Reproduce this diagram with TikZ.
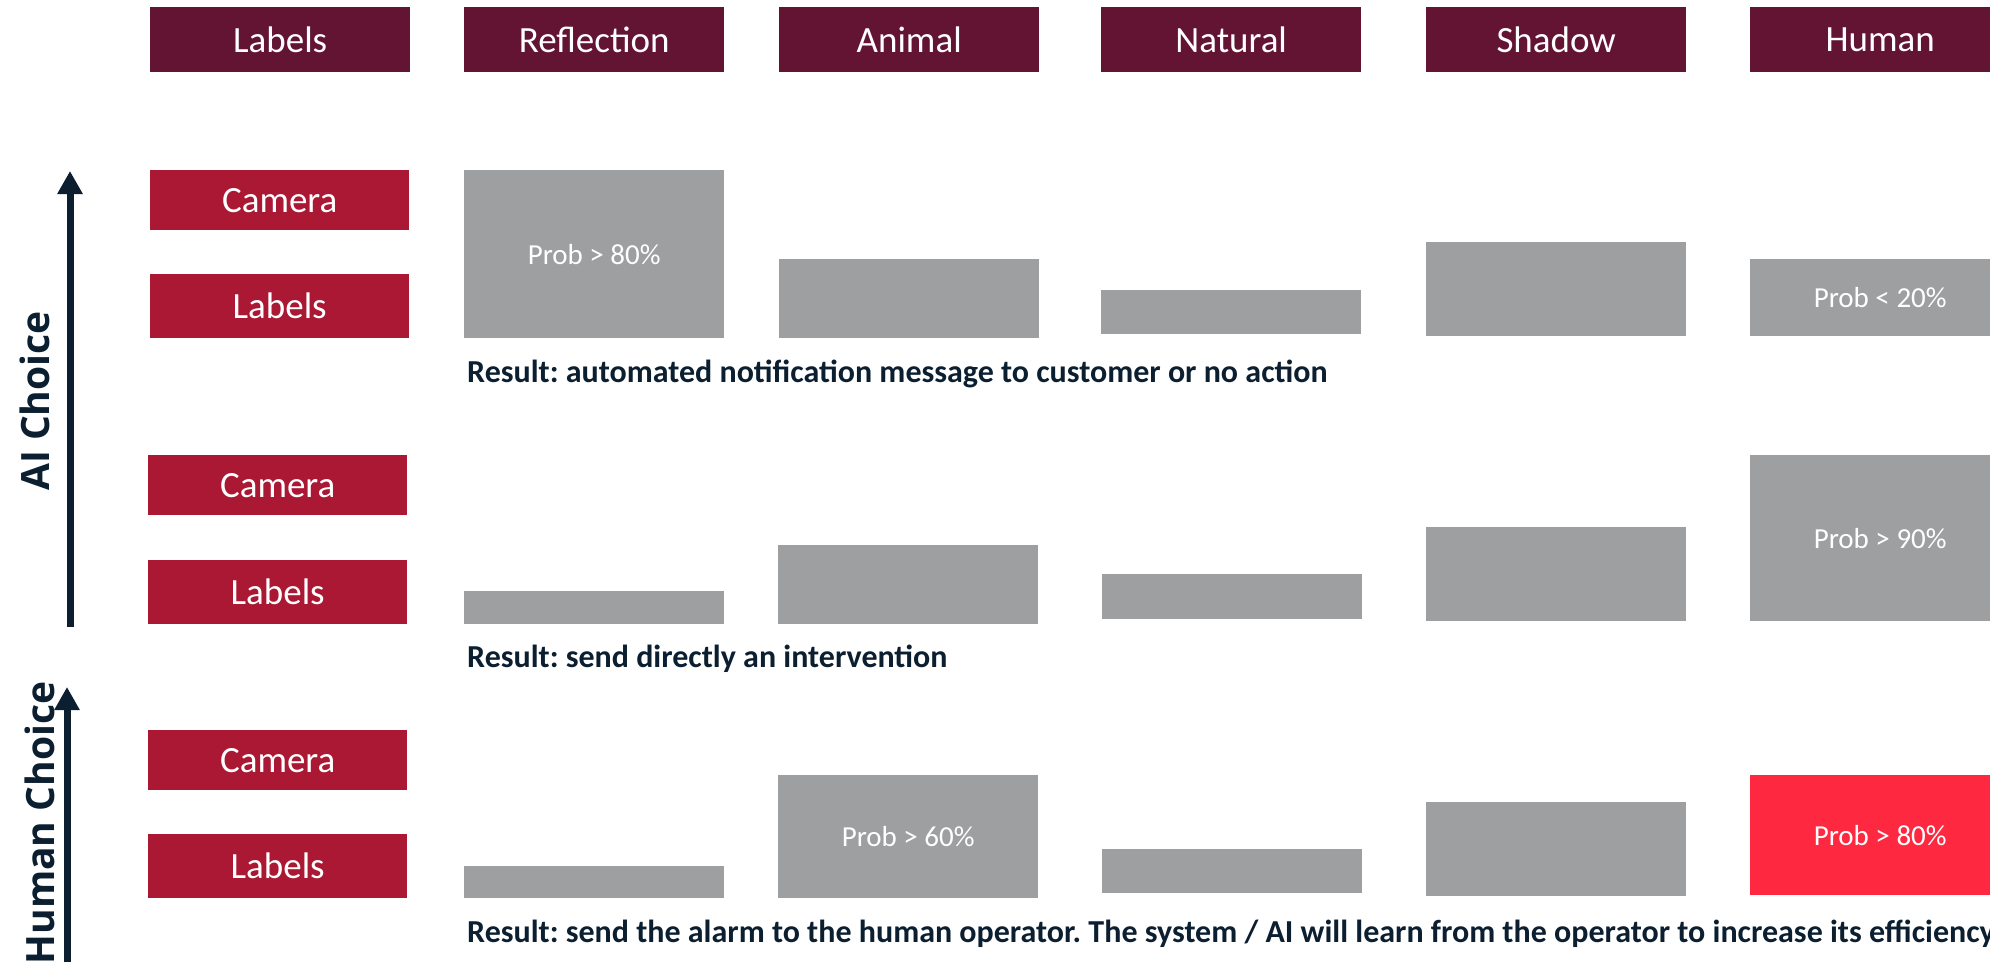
\documentclass[tikz,border=0pt]{standalone}
\usepackage{fontspec}
\setmainfont{Carlito}
\newfontfamily\sidefont{Open Sans}
\usetikzlibrary{arrows.meta}
\definecolor{headred}{HTML}{631432}
\definecolor{rowred}{HTML}{AB1833}
\definecolor{bargray}{HTML}{9E9FA1}
\definecolor{hotred}{HTML}{FE2840}
\definecolor{navy}{HTML}{0B1F30}
\frenchspacing

\begin{document}
\begin{tikzpicture}[x=1pt,y=-1pt]
    \tikzstyle{box} = [anchor=north west,inner sep=0pt,text=white,minimum width=260pt]
    \tikzstyle{head} = [box,fill=headred,minimum height=65pt,font=\fontsize{37}{40}\selectfont]
    \tikzstyle{source} = [box,fill=rowred,minimum width=259pt,font=\fontsize{37}{40}\selectfont]
    \tikzstyle{bar} = [box,fill=bargray,font=\fontsize{29}{32}\selectfont]
    \tikzstyle{hot} = [bar,fill=hotred]
    \tikzstyle{result} = [anchor=base west,inner sep=0pt,text=navy,font=\fontsize{32}{36}\selectfont\bfseries]
    \tikzstyle{side} = [rotate=90,inner sep=0pt,text=navy,font=\fontsize{39}{44}\sidefont\bfseries]
    \tikzstyle{axis} = [draw=navy,line width=7pt,-{Triangle[width=24pt,length=23pt]}]

    \useasboundingbox (0,0) rectangle (1990,962);
    \clip (0,0) rectangle (1990,962);

    % column heads
    \node[head] (hlab) at (150, 7) {Labels};
    \node[head] (hrefl) at (464, 7) {Reflection};
    \node[head] (hanim) at (779, 7) {Animal};
    \node[head] (hnat) at (1101, 7) {Natural};
    \node[head] (hshad) at (1426, 7) {Shadow};
    \node[head] (hhum) at (1750, 7) {Human};

    % first block
    \node[source,minimum height=60pt] (cam1) at (150, 170) {Camera};
    \node[source,minimum height=64pt] (lab1) at (150, 274) {Labels};
    \node[bar,minimum height=168pt] (refl1) at (464, 170) {Prob > 80\%};
    \node[bar,minimum height=79pt] (anim1) at (779, 259) {};
    \node[bar,minimum height=44pt] (nat1) at (1101, 290) {};
    \node[bar,minimum height=94pt] (shad1) at (1426, 242) {};
    \node[bar,minimum height=77pt] (hum1) at (1750, 259) {Prob < 20\%};
    \node[result] (res1) at (467, 382) {Result: automated notification message to customer or no action};

    % second block
    \node[source,minimum height=60pt] (cam2) at (148, 455) {Camera};
    \node[source,minimum height=64pt] (lab2) at (148, 560) {Labels};
    \node[bar,minimum height=33pt] (refl2) at (464, 591) {};
    \node[bar,minimum height=79pt] (anim2) at (778, 545) {};
    \node[bar,minimum height=45pt] (nat2) at (1102, 574) {};
    \node[bar,minimum height=94pt] (shad2) at (1426, 527) {};
    \node[bar,minimum height=166pt] (hum2) at (1750, 455) {Prob > 90\%};
    \node[result] (res2) at (467, 667) {Result: send directly an intervention};

    % third block
    \node[source,minimum height=60pt] (cam3) at (148, 730) {Camera};
    \node[source,minimum height=64pt] (lab3) at (148, 834) {Labels};
    \node[bar,minimum height=32pt] (refl3) at (464, 866) {};
    \node[bar,minimum height=123pt] (anim3) at (778, 775) {Prob > 60\%};
    \node[bar,minimum height=44pt] (nat3) at (1102, 849) {};
    \node[bar,minimum height=94pt] (shad3) at (1426, 802) {};
    \node[hot,minimum height=120pt] (hum3) at (1750, 775) {Prob > 80\%};
    \node[result] (res3) at (467, 942) {Result: send the alarm to the human operator. The system / AI will learn from the operator to increase its efficiency};

    % choice axes
    \coordinate (aibot) at (70, 627);
    \coordinate (aitop) at (70, 171);
    \coordinate (hubot) at (67, 962);
    \coordinate (hutop) at (67, 687);
    \path[axis] (aibot) -- (aitop);
    \path[axis] (hubot) -- (hutop);
    \node[side] (aitxt) at (35, 401) {AI Choice};
    \node[side] (hutxt) at (40, 823) {Human Choice};
\end{tikzpicture}
\end{document}
